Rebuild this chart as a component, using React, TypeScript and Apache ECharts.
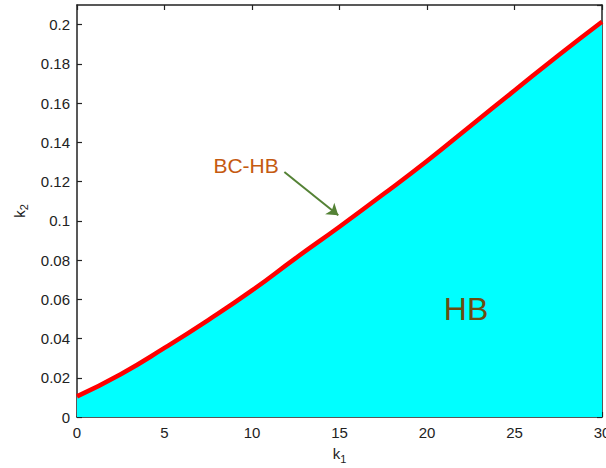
import React, { useEffect, useRef } from "react";
import * as echarts from "echarts";

// Boundary curve (BC-HB): k2 as a function of k1
const k1Values = [0, 2.5, 5, 7.5, 10, 12.5, 15, 17.5, 20, 22.5, 25, 27.5, 30];
const k2Values = [0.0105, 0.0218, 0.0352, 0.0494, 0.0645, 0.081, 0.097, 0.1135, 0.1305, 0.1485, 0.1664, 0.1843, 0.2015];

// Axis settings
const xRange = [0, 30];
const xStep = 5;
const yRange = [0, 0.21];
const yStep = 0.02;

// Annotations (data coordinates)
const curveLabel = { text: "BC-HB", k1: 9.66, k2: 0.1283 };
const regionLabel = { text: "HB", k1: 22.23, k2: 0.0549 };
const arrowFrom = [11.85, 0.1249];
const arrowTo = [14.93, 0.1028];

const FONT = "'Liberation Sans', Arial, Helvetica, sans-serif";

export default function App() {
  const ref = useRef<HTMLDivElement>(null);

  useEffect(() => {
    if (!ref.current) return;
    const chart = echarts.init(ref.current, null, { renderer: "svg" });
    const axisColor = "#222";
    const baseAxis = {
      type: "value" as const,
      axisLine: { show: true, onZero: false, lineStyle: { color: axisColor, width: 1.5 } },
      axisTick: { show: true, inside: true, length: 5, lineStyle: { color: axisColor, width: 1.2 } },
      splitLine: { show: false },
    };
    const subRich = {
      k: { fontSize: 15, fontFamily: FONT, color: "#222" },
      s: { fontSize: 11, fontFamily: FONT, color: "#222", padding: [10, 0, 0, 0] },
    };
    const data = k1Values.map((x, i) => [x, k2Values[i]]);
    chart.setOption({
      animation: false,
      grid: { left: 77, right: 4, top: 5, bottom: 51, containLabel: false, outerBoundsMode: "none" },
      xAxis: [
        {
          ...baseAxis,
          position: "bottom",
          min: xRange[0],
          max: xRange[1],
          interval: xStep,
          axisLabel: { color: "#222", fontSize: 15, fontFamily: FONT, margin: 8 },
          name: "{k|k}{s|1}",
          nameLocation: "middle",
          nameGap: 26,
          nameTextStyle: { rich: subRich },
        },
        {
          ...baseAxis,
          position: "top",
          min: xRange[0],
          max: xRange[1],
          interval: xStep,
          axisLabel: { show: false },
        },
      ],
      yAxis: [
        {
          ...baseAxis,
          position: "left",
          min: yRange[0],
          max: yRange[1],
          interval: yStep,
          axisLabel: { color: "#222", fontSize: 15, fontFamily: FONT, margin: 7, showMaxLabel: false },
          name: "{k|k}{s|2}",
          nameLocation: "middle",
          nameGap: 46,
          nameTextStyle: { rich: subRich },
        },
        {
          ...baseAxis,
          position: "right",
          min: yRange[0],
          max: yRange[1],
          interval: yStep,
          axisLabel: { show: false },
        },
      ],
      series: [
        {
          type: "line",
          data,
          smooth: true,
          symbol: "none",
          lineStyle: { color: "#ff0000", width: 4.5 },
          areaStyle: { color: "#00ffff", opacity: 1 },
          z: 1,
          markLine: {
            silent: true,
            symbol: ["none", "arrow"],
            symbolSize: 11,
            label: { show: false },
            lineStyle: { color: "#548235", width: 2, type: "solid" },
            data: [[{ coord: arrowFrom }, { coord: arrowTo }]],
          },
        },
      ],
    });

    const p1 = chart.convertToPixel({ xAxisIndex: 0, yAxisIndex: 0 }, [curveLabel.k1, curveLabel.k2]);
    const p2 = chart.convertToPixel({ xAxisIndex: 0, yAxisIndex: 0 }, [regionLabel.k1, regionLabel.k2]);
    chart.setOption({
      graphic: [
        {
          type: "text",
          x: p1[0],
          y: p1[1],
          z: 100,
          style: {
            text: curveLabel.text,
            fill: "#c55a11",
            font: `21px ${FONT}`,
            align: "center",
            verticalAlign: "middle",
          },
        },
        {
          type: "text",
          x: p2[0],
          y: p2[1],
          z: 100,
          style: {
            text: regionLabel.text,
            fill: "#6b4c11",
            font: `32px ${FONT}`,
            align: "center",
            verticalAlign: "middle",
          },
        },
      ],
    });

    return () => chart.dispose();
  }, []);

  return (
    <div
      ref={ref}
      style={{ position: "fixed", left: 0, top: 0, width: 606, height: 468, background: "#fff" }}
    />
  );
}
